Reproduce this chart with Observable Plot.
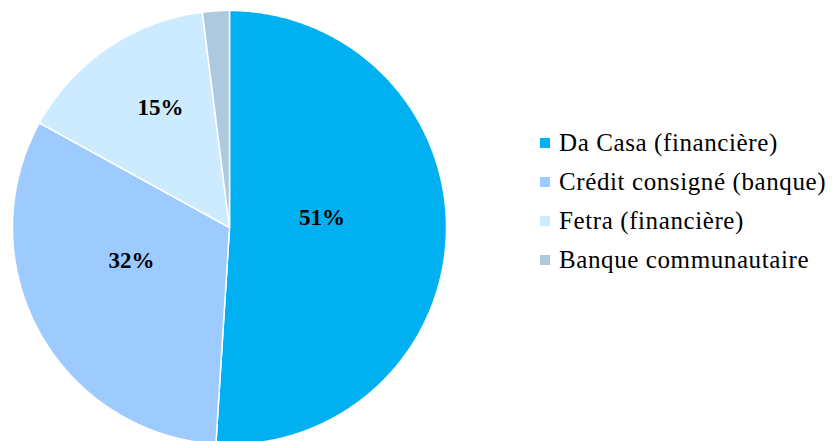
<!DOCTYPE html>
<html>
<head>
<meta charset="utf-8">
<script src="https://cdn.jsdelivr.net/npm/d3@7"></script>
<script src="https://cdn.jsdelivr.net/npm/@observablehq/plot@0.6"></script>
<style>
  html, body { margin: 0; padding: 0; background: #fff; }
  #wrap { position: relative; width: 832px; height: 441px; overflow: hidden; }
  #legend { position: absolute; left: 540px; top: 124px; }
  .row { display: flex; align-items: center; height: 38.8px; font-size: 25px; letter-spacing: 0.6px; color: #000; white-space: nowrap; font-family: "Liberation Serif", "Times New Roman", Times, "DejaVu Serif"; }
  .sw { width: 10px; height: 10px; margin-right: 9px; flex: none; }
</style>
</head>
<body>
<div id="wrap"><div id="legend"></div></div>
<script>
const categories = ["Da Casa (financière)", "Crédit consigné (banque)", "Fetra (financière)", "Banque communautaire"];
const shares = [51, 32, 15, 2];
const colors = ["#00B0F0", "#9DCBFF", "#CCEBFF", "#ADC9DF"];
const showLabel = [true, true, true, false];

// label nudges (pixels) to mimic the spreadsheet's label placement
const labelShift = [[-16, -13], [-3, -19], [-8, -30], [0, 0]];

const serif = "'Liberation Serif', 'Times New Roman', Times, 'DejaVu Serif'";

const arcs = d3.pie().sort(null).value(d => d)(shares);

const slicePoints = [];
arcs.forEach((a, i) => {
  slicePoints.push({cat: categories[i], x: 0, y: 0});
  const n = Math.max(4, Math.ceil((a.endAngle - a.startAngle) / (Math.PI / 360)));
  for (let k = 0; k <= n; k++) {
    const t = a.startAngle + (a.endAngle - a.startAngle) * k / n;
    slicePoints.push({cat: categories[i], x: Math.sin(t), y: Math.cos(t)});
  }
});

const labelData = arcs.map((a, i) => {
  const m = (a.startAngle + a.endAngle) / 2;
  return {text: shares[i] + "%", x: 0.5 * Math.sin(m), y: 0.5 * Math.cos(m), dx: labelShift[i][0], dy: labelShift[i][1], show: showLabel[i]};
}).filter(d => d.show);

const cx = 229, cy = 227, R = 217;

const chart = Plot.plot({
  width: 832,
  height: 441,
  margin: 0,
  x: {domain: [-1, 1], range: [cx - R, cx + R], axis: null},
  y: {domain: [-1, 1], range: [cy + R, cy - R], axis: null},
  color: {domain: categories, range: colors},
  style: {fontFamily: serif, background: "white"},
  marks: [
    Plot.line(slicePoints, {x: "x", y: "y", z: "cat", fill: "cat", stroke: "white", strokeWidth: 1.5, curve: "linear-closed", clip: false}),
    ...labelData.map(d => Plot.text([d], {x: "x", y: "y", text: "text", dx: d.dx, dy: d.dy, fontSize: 23, fontWeight: "bold", fill: "black", fontFamily: serif, textAnchor: "middle", lineAnchor: "middle"}))
  ]
});
document.getElementById("wrap").prepend(chart);

const legend = document.getElementById("legend");
categories.forEach((c, i) => {
  const row = document.createElement("div");
  row.className = "row";
  const sw = document.createElement("span");
  sw.className = "sw";
  sw.style.background = colors[i];
  const tx = document.createElement("span");
  tx.textContent = c;
  row.appendChild(sw);
  row.appendChild(tx);
  legend.appendChild(row);
});
</script>
</body>
</html>
